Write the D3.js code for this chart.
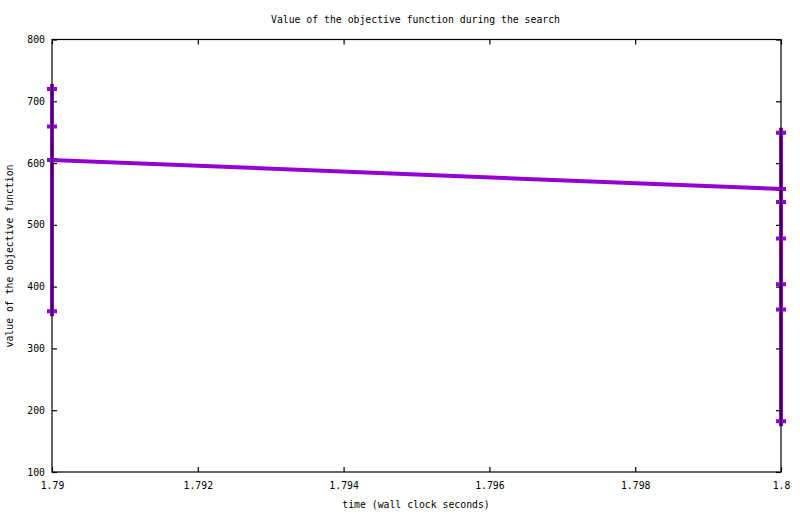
<!DOCTYPE html>
<html>
<head>
<meta charset="utf-8">
<script src="https://cdn.jsdelivr.net/npm/d3@7"></script>
<style>
  body { margin: 0; background: #fff; }
  text { font-family: "DejaVu Sans Mono", monospace; font-size: 9.8px; fill: #000; }
</style>
</head>
<body>
<script>
// data: several objective values per time stamp
var times = [1.79, 1.79, 1.79, 1.79, 1.8, 1.8, 1.8, 1.8, 1.8, 1.8, 1.8];
var values = [720, 659, 360, 605, 558, 649, 537, 478, 404, 363, 182];
var xTicks = [1.79, 1.792, 1.794, 1.796, 1.798, 1.8];
var yTicks = [100, 200, 300, 400, 500, 600, 700, 800];

window.onload = drawChart();

function drawChart(){

    var width = 800,
        height = 514;

    var margin = {top: 39.5, right: 19, bottom: 42, left: 52};

    var svg = d3.select("body")
        .append("svg")
        .attr("width", width)
        .attr("height", height);

    var x = d3.scaleLinear()
        .domain([1.79, 1.8])
        .range([margin.left, width - margin.right]);

    var y = d3.scaleLinear()
        .domain([100, 800])
        .range([height - margin.bottom, margin.top]);

    var points = times.map(function(t, i){ return [t, values[i]]; });

    //the series line
    var line = d3.line()
        .x(function(d){ return x(d[0]); })
        .y(function(d){ return y(d[1]); });

    svg.append("path")
        .datum(points)
        .attr("fill", "none")
        .attr("stroke", "#9400d3")
        .attr("stroke-width", 4)
        .attr("d", line);

    //plus markers
    svg.selectAll(".pt")
        .data(points)
        .enter()
        .append("path")
        .attr("class", "pt")
        .attr("d", function(d){
            var cx = x(d[0]), cy = y(d[1]);
            return "M" + (cx - 5) + "," + cy + "H" + (cx + 5) +
                   "M" + cx + "," + (cy - 5) + "V" + (cy + 5);
        })
        .attr("stroke", "#9400d3")
        .attr("stroke-width", 4)
        .attr("fill", "none");

    //axes with mirrored ticks, inward like gnuplot
    var tick = 5;
    svg.append("g")
        .attr("transform", "translate(0," + y(100) + ")")
        .call(d3.axisBottom(x).tickValues(xTicks).tickSizeInner(-tick).tickSizeOuter(0)
            .tickFormat(function(d){ return d3.format("")(+d.toFixed(3)); }))
        .call(styleAxis)
        .selectAll("text").attr("dy", "0").attr("y", 17);

    svg.append("g")
        .attr("transform", "translate(0," + y(800) + ")")
        .call(d3.axisTop(x).tickValues(xTicks).tickSizeInner(-tick).tickSizeOuter(0).tickFormat(""))
        .call(styleAxis);

    svg.append("g")
        .attr("transform", "translate(" + x(1.79) + ",0)")
        .call(d3.axisLeft(y).tickValues(yTicks).tickSizeInner(-tick).tickSizeOuter(0))
        .call(styleAxis)
        .selectAll("text").attr("x", -7);

    svg.append("g")
        .attr("transform", "translate(" + x(1.8) + ",0)")
        .call(d3.axisRight(y).tickValues(yTicks).tickSizeInner(-tick).tickSizeOuter(0).tickFormat(""))
        .call(styleAxis);

    //border, drawn over the series
    svg.append("rect")
        .attr("x", x(1.79))
        .attr("y", y(800))
        .attr("width", x(1.8) - x(1.79))
        .attr("height", y(100) - y(800))
        .attr("fill", "none")
        .attr("stroke", "#000")
        .attr("stroke-width", 1.2);

    //labels
    svg.append("text")
        .attr("x", 415.5)
        .attr("y", 23)
        .attr("text-anchor", "middle")
        .text("Value of the objective function during the search");

    svg.append("text")
        .attr("x", 416)
        .attr("y", 508)
        .attr("text-anchor", "middle")
        .text("time (wall clock seconds)");

    svg.append("text")
        .attr("transform", "translate(13," + 256 + ") rotate(-90)")
        .attr("text-anchor", "middle")
        .text("value of the objective function");

    function styleAxis(g){
        g.select(".domain").remove();
        g.selectAll("line").attr("stroke", "#000").attr("stroke-width", 1.2);
        g.selectAll("text")
            .style("font-family", "DejaVu Sans Mono, monospace")
            .style("font-size", "9.8px")
            .attr("fill", "#000");
    }
};
</script>
</body>
</html>
